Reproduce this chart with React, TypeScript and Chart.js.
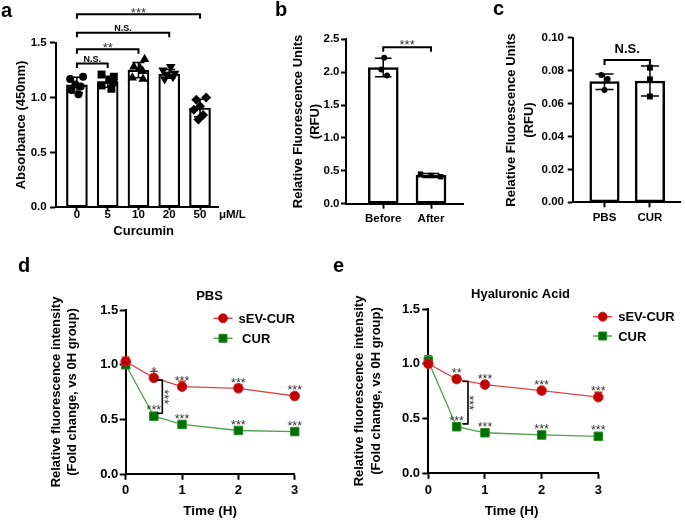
import React, { useEffect, useRef } from "react";
import { Chart, registerables } from "chart.js";

Chart.register(...registerables);

const FONT = "'Liberation Sans', Arial, Helvetica, sans-serif";

// ---------------- Panel a : CCK-8 absorbance ----------------
const A_CATEGORIES = ["0", "5", "10", "20", "50"];
const A_MEANS = [1.115, 1.145, 1.25, 1.215, 0.905];
const A_SD = [0.07, 0.05, 0.07, 0.04, 0.08];
const A_POINTS_0 = [1.17, 1.19, 1.12, 1.1, 1.07, 1.03];
const A_POINTS_5 = [1.21, 1.19, 1.16, 1.14, 1.11, 1.08];
const A_POINTS_10 = [1.35, 1.28, 1.27, 1.24, 1.18, 1.17];
const A_POINTS_20 = [1.28, 1.25, 1.22, 1.21, 1.19, 1.17];
const A_POINTS_50 = [1.0, 0.98, 0.92, 0.89, 0.84, 0.8];
const A_JITTER_0 = [-0.22, 0.2, -0.05, 0.12, -0.18, 0.05];
const A_JITTER_5 = [-0.2, 0.2, 0.05, 0.18, -0.2, 0.12];
const A_JITTER_10 = [0.2, -0.15, 0.05, 0.14, -0.2, 0.15];
const A_JITTER_20 = [0.05, -0.2, 0.18, -0.08, 0.12, -0.15];
const A_JITTER_50 = [0.2, -0.12, 0.0, -0.2, 0.1, -0.05];
const A_Y_TICKS = [0, 0.5, 1.0, 1.5];
const A_BRACKET_FROM = [0, 0, 0, 0];
const A_BRACKET_TO = [1, 2, 3, 4];
const A_BRACKET_LEVEL = [1.31, 1.44, 1.59, 1.76];
const A_BRACKET_LABEL = ["N.S.", "**", "N.S.", "***"];

// ---------------- Panel b : RFU before / after ----------------
const B_CATEGORIES = ["Before", "After"];
const B_MEANS = [2.07, 0.43];
const B_SD = [0.14, 0.03];
const B_POINTS_BEFORE = [2.22, 2.04, 1.95];
const B_POINTS_AFTER = [0.45, 0.43, 0.41];
const B_JITTER_BEFORE = [0.02, -0.04, 0.08];
const B_JITTER_AFTER = [-0.22, 0.0, 0.2];
const B_Y_TICKS = [0, 0.5, 1.0, 1.5, 2.0, 2.5];
const B_BRACKET_LEVEL = 2.378;
const B_BRACKET_LABEL = "***";

// ---------------- Panel c : RFU PBS / CUR ----------------
const C_CATEGORIES = ["PBS", "CUR"];
const C_MEANS = [0.0733, 0.0737];
const C_SD = [0.0047, 0.0091];
const C_POINTS_PBS = [0.0773, 0.0749, 0.0682];
const C_POINTS_CUR = [0.0818, 0.0747, 0.0643];
const C_JITTER_PBS = [-0.07, 0.07, 0.0];
const C_JITTER_CUR = [0.0, 0.0, 0.0];
const C_Y_TICKS = [0, 0.02, 0.04, 0.06, 0.08, 0.1];
const C_BRACKET_LEVEL = 0.0865;
const C_BRACKET_LABEL = "N.S.";

// ---------------- Panels d / e : time course ----------------
const TIMES = [0, 0.5, 1, 2, 3];
const TIME_TICKS = [0, 1, 2, 3];
const DE_Y_TICKS = [0, 0.5, 1.0, 1.5];
const SERIES_LABELS = ["sEV-CUR", "CUR"];

const D_SEV = [1.03, 0.88, 0.8, 0.785, 0.715];
const D_SEV_ERR = [0.04, 0.06, 0.05, 0.035, 0.02];
const D_CUR = [1.0, 0.53, 0.455, 0.4, 0.39];
const D_CUR_ERR = [0.01, 0.035, 0.015, 0.01, 0.008];
const D_SEV_SIG = ["", "*", "***", "***", "***"];
const D_CUR_SIG = ["", "***", "***", "***", "***"];
const D_BRACKET = { x: 0.65, top: 0.86, bottom: 0.557, label: "***" };

const E_SEV = [1.0, 0.86, 0.81, 0.755, 0.695];
const E_SEV_ERR = [0.02, 0.03, 0.015, 0.015, 0.045];
const E_CUR = [1.025, 0.425, 0.37, 0.35, 0.338];
const E_CUR_ERR = [0.05, 0.015, 0.01, 0.03, 0.008];
const E_SEV_SIG = ["", "**", "***", "***", "***"];
const E_CUR_SIG = ["", "***", "***", "***", "***"];
const E_BRACKET = { x: 0.7, top: 0.838, bottom: 0.451, label: "***" };

const RED = { fill: "rgb(192,0,0)", edge: "rgb(205,35,35)", line: "rgb(214,72,72)" };
const GREEN = { fill: "rgb(0,110,0)", edge: "rgb(40,140,40)", line: "rgb(80,160,80)" };

// ---------------- helpers ----------------
type Txt = {
  s: string; x: number; y: number; size: number; bold?: boolean;
  align?: CanvasTextAlign; rot?: number; anchor?: "cap" | "star" | "base"; color?: string;
};

function drawTxt(ctx: CanvasRenderingContext2D, t: Txt) {
  ctx.save();
  ctx.translate(t.x, t.y);
  if (t.rot) ctx.rotate(t.rot);
  ctx.font = `${t.bold === false ? "normal" : "bold"} ${t.size}px ${FONT}`;
  ctx.fillStyle = t.color || "#000";
  ctx.textAlign = t.align || "center";
  ctx.textBaseline = "alphabetic";
  const k = t.anchor === "star" ? 0.575 : t.anchor === "base" ? 0 : 0.358;
  ctx.fillText(t.s, 0, k * t.size);
  ctx.restore();
}

type Bracket = { from: number; to: number; level: number; label: string; drop: number; gap: number; size: number; bold: boolean; star: boolean };

interface BarSpec {
  area: { left: number; top: number; right: number; bottom: number };
  width: number; height: number;
  categories: string[]; means: number[]; sd: number[];
  points: number[][]; jitter: number[][];
  styles: string[]; rotations: number[]; radii: number[];
  xMin: number; xMax: number; yMax: number; yTicks: number[]; yDecimals: number;
  barThickness: number; barBorder: number; capHalf: number; errWidth: number;
  tickSize: number; yTickLen: number; yTickPad: number; xTickLen: number; xTickPad: number; xTickLH: number;
  brackets: Bracket[];
  texts: Txt[];
}

function barChart(canvas: HTMLCanvasElement, p: BarSpec) {
  const datasets: any[] = [
    {
      type: "bar",
      data: p.means.map((m, i) => ({ x: i, y: m })),
      backgroundColor: "#ffffff",
      borderColor: "#000000",
      borderWidth: p.barBorder,
      borderSkipped: false,
      barThickness: p.barThickness,
      order: 2,
    },
  ];
  p.points.forEach((vals, i) => {
    datasets.push({
      type: "scatter",
      data: vals.map((v, j) => ({ x: i + p.jitter[i][j], y: v })),
      pointStyle: p.styles[i],
      pointRotation: p.rotations[i],
      pointRadius: p.radii[i],
      pointBackgroundColor: "#000",
      pointBorderColor: "#000",
      pointBorderWidth: 0,
      showLine: false,
      clip: false,
      order: 1,
    });
  });
  const decor = {
    id: "decor",
    afterDatasetDraw(chart: any, args: any) {
      if (args.meta.type !== "bar") return;
      const { ctx } = chart;
      const x = chart.scales.x, y = chart.scales.y;
      ctx.save();
      ctx.strokeStyle = "#000";
      ctx.lineWidth = p.errWidth;
      p.means.forEach((m, i) => {
        const px = x.getPixelForValue(i);
        const y1 = y.getPixelForValue(m + p.sd[i]);
        const y0 = y.getPixelForValue(m - p.sd[i]);
        ctx.beginPath();
        ctx.moveTo(px, y0); ctx.lineTo(px, y1);
        ctx.moveTo(px - p.capHalf, y1); ctx.lineTo(px + p.capHalf, y1);
        ctx.moveTo(px - p.capHalf, y0); ctx.lineTo(px + p.capHalf, y0);
        ctx.stroke();
      });
      ctx.restore();
    },
    afterDraw(chart: any) {
      const { ctx } = chart;
      const x = chart.scales.x, y = chart.scales.y;
      p.brackets.forEach((b) => {
        const x0 = x.getPixelForValue(b.from), x1 = x.getPixelForValue(b.to);
        const py = y.getPixelForValue(b.level);
        ctx.save();
        ctx.strokeStyle = "#000";
        ctx.lineWidth = 2;
        ctx.beginPath();
        ctx.moveTo(x0, py + b.drop); ctx.lineTo(x0, py); ctx.lineTo(x1, py); ctx.lineTo(x1, py + b.drop);
        ctx.stroke();
        ctx.restore();
        drawTxt(ctx, {
          s: b.label, x: (x0 + x1) / 2, y: py - b.gap, size: b.size, bold: b.bold,
          anchor: b.star ? "star" : "cap", color: b.star ? "#333" : "#000",
        });
      });
      p.texts.forEach((t) => drawTxt(ctx, t));
    },
  };
  const tickFont = { family: FONT, size: p.tickSize, weight: "bold" as const };
  return new Chart(canvas, {
    type: "bar",
    data: { datasets },
    options: {
      responsive: false,
      animation: false,
      devicePixelRatio: 1,
      layout: { padding: { left: 0, top: p.area.top, right: p.width - p.area.right, bottom: 0 } },
      plugins: { legend: { display: false }, tooltip: { enabled: false } },
      scales: {
        x: {
          type: "linear",
          offset: false,
          min: p.xMin,
          max: p.xMax,
          afterBuildTicks: (s: any) => { s.ticks = p.categories.map((_, i) => ({ value: i })); },
          afterFit: (s: any) => { s.height = p.height - p.area.bottom; },
          ticks: {
            callback: (v: any) => p.categories[Number(v)] ?? "",
            font: { ...tickFont, lineHeight: p.xTickLH },
            color: "#000",
            padding: p.xTickPad,
            maxRotation: 0,
            autoSkip: false,
          },
          grid: { offset: false, drawOnChartArea: false, drawTicks: true, tickLength: p.xTickLen, tickWidth: 2, tickColor: "#000" },
          border: { display: true, color: "#000", width: 2 },
        },
        y: {
          type: "linear",
          min: 0,
          max: p.yMax,
          afterBuildTicks: (s: any) => { s.ticks = p.yTicks.map((v) => ({ value: v })); },
          afterFit: (s: any) => { s.width = p.area.left; },
          ticks: {
            callback: (v: any) => Number(v).toFixed(p.yDecimals),
            font: tickFont,
            color: "#000",
            padding: p.yTickPad,
          },
          grid: { drawOnChartArea: false, drawTicks: true, tickLength: p.yTickLen, tickWidth: 2, tickColor: "#000" },
          border: { display: true, color: "#000", width: 2 },
        },
      },
    } as any,
    plugins: [decor],
  });
}

type Series = { label: string; values: number[]; errs: number[]; sig: string[]; col: { fill: string; edge: string; line: string }; style: string; radius: number };

interface LineSpec {
  area: { left: number; top: number; right: number; bottom: number };
  width: number; height: number;
  series: Series[];
  bracket: { x: number; top: number; bottom: number; label: string };
  legend: { x: number; y: number; dy: number; labels: string[] };
  texts: Txt[];
  yTickPad: number; xTickPad: number;
}

function lineChart(canvas: HTMLCanvasElement, p: LineSpec) {
  const datasets = p.series.map((s) => ({
    type: "line",
    label: s.label,
    data: TIMES.map((t, i) => ({ x: t, y: s.values[i] })),
    borderColor: s.col.line,
    borderWidth: 1.3,
    tension: 0,
    fill: false,
    pointStyle: s.style,
    pointRadius: s.radius,
    pointBackgroundColor: s.col.fill,
    pointBorderColor: s.col.edge,
    pointBorderWidth: 1,
    clip: false,
  }));
  const decor = {
    id: "decor",
    beforeDatasetsDraw(chart: any) {
      const { ctx } = chart;
      const x = chart.scales.x, y = chart.scales.y;
      p.series.forEach((s) => {
        ctx.save();
        ctx.strokeStyle = s.col.edge;
        ctx.lineWidth = 1.3;
        s.values.forEach((v, i) => {
          const px = x.getPixelForValue(TIMES[i]);
          const y0 = y.getPixelForValue(v);
          const y1 = y.getPixelForValue(v + s.errs[i]);
          ctx.beginPath();
          ctx.moveTo(px, y0); ctx.lineTo(px, y1);
          ctx.moveTo(px - 4, y1); ctx.lineTo(px + 4, y1);
          ctx.stroke();
        });
        ctx.restore();
      });
    },
    afterDraw(chart: any) {
      const { ctx } = chart;
      const x = chart.scales.x, y = chart.scales.y;
      p.series.forEach((s) => {
        s.sig.forEach((lab, i) => {
          if (!lab) return;
          drawTxt(ctx, {
            s: lab, x: x.getPixelForValue(TIMES[i]), y: y.getPixelForValue(s.values[i]) - 9,
            size: 12.5, bold: false, anchor: "star", color: "#333",
          });
        });
      });
      const bx = x.getPixelForValue(p.bracket.x);
      const bt = y.getPixelForValue(p.bracket.top);
      const bb = y.getPixelForValue(p.bracket.bottom);
      ctx.save();
      ctx.strokeStyle = "#000";
      ctx.lineWidth = 1.6;
      ctx.beginPath();
      ctx.moveTo(bx - 5.5, bt); ctx.lineTo(bx, bt); ctx.lineTo(bx, bb); ctx.lineTo(bx - 5.5, bb);
      ctx.stroke();
      ctx.restore();
      drawTxt(ctx, { s: p.bracket.label, x: bx + 4.5, y: (bt + bb) / 2, size: 12.5, bold: false, anchor: "star", rot: Math.PI / 2, color: "#333" });
      p.series.forEach((s, i) => {
        const lx = p.legend.x, ly = p.legend.y + i * p.legend.dy;
        ctx.save();
        ctx.strokeStyle = s.col.line;
        ctx.lineWidth = 1.5;
        ctx.beginPath();
        ctx.moveTo(lx - 9.5, ly); ctx.lineTo(lx + 9.5, ly);
        ctx.stroke();
        ctx.fillStyle = s.col.fill;
        ctx.strokeStyle = s.col.edge;
        ctx.lineWidth = 1;
        ctx.beginPath();
        if (s.style === "circle") ctx.arc(lx, ly, 4.5, 0, Math.PI * 2);
        else ctx.rect(lx - 4, ly - 4, 8, 8);
        ctx.fill();
        ctx.stroke();
        ctx.restore();
        drawTxt(ctx, { s: p.legend.labels[i], x: lx + 15.5, y: ly, size: 13, align: "left" });
      });
      p.texts.forEach((t) => drawTxt(ctx, t));
    },
  };
  const tickFont = { family: FONT, size: 13, weight: "bold" as const };
  return new Chart(canvas, {
    type: "line",
    data: { datasets } as any,
    options: {
      responsive: false,
      animation: false,
      devicePixelRatio: 1,
      layout: { padding: { left: 0, top: p.area.top, right: p.width - p.area.right, bottom: 0 } },
      plugins: { legend: { display: false }, tooltip: { enabled: false } },
      scales: {
        x: {
          type: "linear",
          offset: false,
          min: 0,
          max: 3,
          afterBuildTicks: (s: any) => { s.ticks = TIME_TICKS.map((v) => ({ value: v })); },
          afterFit: (s: any) => { s.height = p.height - p.area.bottom; },
          ticks: { font: tickFont, color: "#000", padding: p.xTickPad, maxRotation: 0, autoSkip: false, callback: (v: any) => String(v) },
          grid: { drawOnChartArea: false, drawTicks: true, tickLength: 5.5, tickWidth: 2, tickColor: "#000" },
          border: { display: true, color: "#000", width: 2 },
        },
        y: {
          type: "linear",
          min: 0,
          max: 1.5,
          afterBuildTicks: (s: any) => { s.ticks = DE_Y_TICKS.map((v) => ({ value: v })); },
          afterFit: (s: any) => { s.width = p.area.left; },
          ticks: { font: tickFont, color: "#000", padding: p.yTickPad, callback: (v: any) => Number(v).toFixed(1) },
          grid: { drawOnChartArea: false, drawTicks: true, tickLength: 6, tickWidth: 2, tickColor: "#000" },
          border: { display: true, color: "#000", width: 2 },
        },
      },
    } as any,
    plugins: [decor],
  });
}

const ROT_L = -Math.PI / 2;

function Panel({ left, top, width, height, make }: { left: number; top: number; width: number; height: number; make: (c: HTMLCanvasElement) => Chart }) {
  const ref = useRef<HTMLCanvasElement | null>(null);
  useEffect(() => {
    if (!ref.current) return;
    const ch = make(ref.current);
    return () => ch.destroy();
  }, []);
  return (
    <canvas
      ref={ref}
      width={width}
      height={height}
      style={{ position: "absolute", left, top, width, height }}
    />
  );
}

export default function App() {
  const mkA = (c: HTMLCanvasElement) =>
    barChart(c, {
      area: { left: 56, top: 42.7, right: 218, bottom: 207.3 },
      width: 250, height: 245,
      categories: A_CATEGORIES, means: A_MEANS, sd: A_SD,
      points: [A_POINTS_0, A_POINTS_5, A_POINTS_10, A_POINTS_20, A_POINTS_50],
      jitter: [A_JITTER_0, A_JITTER_5, A_JITTER_10, A_JITTER_20, A_JITTER_50],
      styles: ["circle", "rect", "triangle", "triangle", "rectRot"],
      rotations: [0, 0, 0, 180, 0],
      radii: [4, 5.6, 5.5, 5.5, 5],
      xMin: -0.68, xMax: 4.585, yMax: 1.5, yTicks: A_Y_TICKS, yDecimals: 1,
      barThickness: 21, barBorder: 2.2, capHalf: 6, errWidth: 1.5,
      tickSize: 11.5, yTickLen: 6, yTickPad: 3.3, xTickLen: 3, xTickPad: -1, xTickLH: 1.0,
      brackets: A_BRACKET_FROM.map((f, i) => ({
        from: f, to: A_BRACKET_TO[i], level: A_BRACKET_LEVEL[i], label: A_BRACKET_LABEL[i],
        drop: 4.5, gap: 4.7, size: A_BRACKET_LABEL[i] === "N.S." ? 9 : 13,
        bold: A_BRACKET_LABEL[i] === "N.S.", star: A_BRACKET_LABEL[i] !== "N.S.",
      })),
      texts: [
        { s: "a", x: 1, y: 17, size: 20, align: "left", anchor: "base" },
        { s: "Absorbance (450nm)", x: 20, y: 125, size: 13, rot: ROT_L },
        { s: "Curcumin", x: 143.7, y: 230.3, size: 13 },
        { s: "μM/L", x: 219, y: 214.3, size: 11.5, align: "left" },
      ],
    });
  const mkB = (c: HTMLCanvasElement) =>
    barChart(c, {
      area: { left: 76, top: 39.3, right: 193, bottom: 203.7 },
      width: 200, height: 240,
      categories: B_CATEGORIES, means: B_MEANS, sd: B_SD,
      points: [B_POINTS_BEFORE, B_POINTS_AFTER],
      jitter: [B_JITTER_BEFORE, B_JITTER_AFTER],
      styles: ["circle", "rect"], rotations: [0, 0], radii: [3, 3.8],
      xMin: -0.78, xMax: 1.67, yMax: 2.5, yTicks: B_Y_TICKS, yDecimals: 1,
      barThickness: 30, barBorder: 2.5, capHalf: 8.3, errWidth: 1.5,
      tickSize: 11.5, yTickLen: 5, yTickPad: 1.5, xTickLen: 5, xTickPad: 3.7, xTickLH: 1.2,
      brackets: [{ from: 0, to: 1, level: B_BRACKET_LEVEL, label: B_BRACKET_LABEL, drop: 4.4, gap: 5.6, size: 13, bold: false, star: true }],
      texts: [
        { s: "b", x: 5, y: 15.5, size: 20, align: "left", anchor: "base" },
        { s: "Relative Fluorescence Units", x: 27.3, y: 121.5, size: 13, rot: ROT_L },
        { s: "(RFU)", x: 44, y: 121.5, size: 13, rot: ROT_L },
      ],
    });
  const mkC = (c: HTMLCanvasElement) =>
    barChart(c, {
      area: { left: 92.7, top: 37.7, right: 204, bottom: 202.3 },
      width: 205, height: 240,
      categories: C_CATEGORIES, means: C_MEANS, sd: C_SD,
      points: [C_POINTS_PBS, C_POINTS_CUR],
      jitter: [C_JITTER_PBS, C_JITTER_CUR],
      styles: ["circle", "rect"], rotations: [0, 0], radii: [3, 4.2],
      xMin: -0.7, xMax: 1.68, yMax: 0.1, yTicks: C_Y_TICKS, yDecimals: 2,
      barThickness: 29.5, barBorder: 2.5, capHalf: 9, errWidth: 1.5,
      tickSize: 11.5, yTickLen: 5, yTickPad: 3.7, xTickLen: 5, xTickPad: 4.1, xTickLH: 1.2,
      brackets: [{ from: 0, to: 1, level: C_BRACKET_LEVEL, label: C_BRACKET_LABEL, drop: 5, gap: 11.5, size: 13, bold: true, star: false }],
      texts: [
        { s: "c", x: 13, y: 15, size: 20, align: "left", anchor: "base" },
        { s: "Relative Fluorescence Units", x: 30.7, y: 120, size: 13, rot: ROT_L },
        { s: "(RFU)", x: 48.3, y: 120, size: 13, rot: ROT_L },
      ],
    });
  const mkD = (c: HTMLCanvasElement) =>
    lineChart(c, {
      area: { left: 125.7, top: 60, right: 294.7, bottom: 224.3 },
      width: 340, height: 270,
      series: [
        { label: SERIES_LABELS[0], values: D_SEV, errs: D_SEV_ERR, sig: D_SEV_SIG, col: RED, style: "circle", radius: 4.8 },
        { label: SERIES_LABELS[1], values: D_CUR, errs: D_CUR_ERR, sig: D_CUR_SIG, col: GREEN, style: "rect", radius: 6 },
      ],
      bracket: D_BRACKET,
      legend: { x: 223, y: 68.3, dy: 20, labels: [SERIES_LABELS[0], " " + SERIES_LABELS[1]] },
      yTickPad: 1.5, xTickPad: 2.9,
      texts: [
        { s: "d", x: 18, y: 22, size: 20, align: "left", anchor: "base" },
        { s: "Relative fluorescence intensity", x: 55, y: 142, size: 13, rot: ROT_L },
        { s: "(Fold change, vs 0H group)", x: 71.7, y: 142, size: 13, rot: ROT_L },
        { s: "Time (H)", x: 210.2, y: 260, size: 13.5 },
        { s: "PBS", x: 209.5, y: 45, size: 13 },
      ],
    });
  const mkE = (c: HTMLCanvasElement) =>
    lineChart(c, {
      area: { left: 98.3, top: 59, right: 268.3, bottom: 223.3 },
      width: 355, height: 270,
      series: [
        { label: SERIES_LABELS[0], values: E_SEV, errs: E_SEV_ERR, sig: E_SEV_SIG, col: RED, style: "circle", radius: 4.8 },
        { label: SERIES_LABELS[1], values: E_CUR, errs: E_CUR_ERR, sig: E_CUR_SIG, col: GREEN, style: "rect", radius: 6 },
      ],
      bracket: E_BRACKET,
      legend: { x: 272.7, y: 66.7, dy: 19.3, labels: SERIES_LABELS },
      yTickPad: 2.3, xTickPad: 3.4,
      texts: [
        { s: "e", x: 3, y: 22, size: 20, align: "left", anchor: "base" },
        { s: "Relative fluorescence intensity", x: 28.3, y: 141, size: 13, rot: ROT_L },
        { s: "(Fold change, vs 0H group)", x: 45, y: 141, size: 13, rot: ROT_L },
        { s: "Time (H)", x: 181.7, y: 260, size: 13.5 },
        { s: "Hyaluronic Acid", x: 190.5, y: 43.3, size: 13 },
      ],
    });
  return (
    <div style={{ position: "fixed", left: 0, top: 0, width: 685, height: 520, background: "#fff", overflow: "hidden" }}>
      <Panel left={0} top={0} width={250} height={245} make={mkA} />
      <Panel left={270} top={0} width={200} height={240} make={mkB} />
      <Panel left={480} top={0} width={205} height={240} make={mkC} />
      <Panel left={0} top={250} width={340} height={270} make={mkD} />
      <Panel left={330} top={250} width={355} height={270} make={mkE} />
    </div>
  );
}
